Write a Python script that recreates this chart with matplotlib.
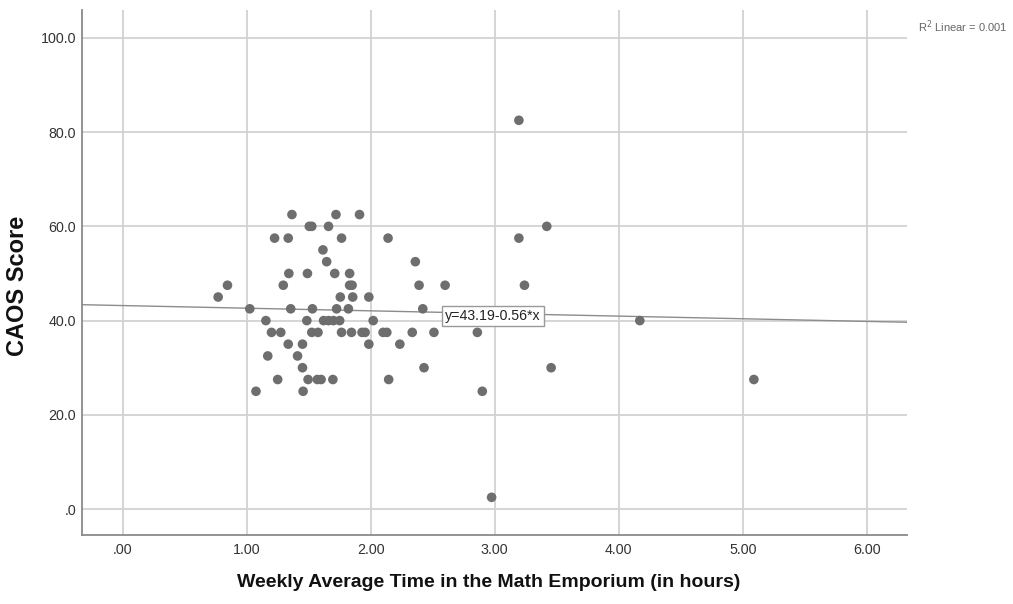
import matplotlib
matplotlib.use("Agg")
import matplotlib.pyplot as plt
import numpy as np

plt.rcParams['font.family'] = ['Liberation Sans', 'DejaVu Sans']

# Data (hours, CAOS score)
hours_62_5 = [1.365, 1.72, 1.91]
hours_60 = [1.505, 1.525, 1.66, 3.42]
hours_57_5 = [1.225, 1.335, 1.765, 2.14, 3.195]
hours_55 = [1.615]
hours_52_5 = [1.645, 2.36]
hours_50 = [1.34, 1.49, 1.71, 1.83]
hours_47_5 = [0.845, 1.295, 1.83, 1.85, 2.39, 2.60, 3.24]
hours_45 = [0.77, 1.755, 1.855, 1.985]
hours_42_5 = [1.025, 1.355, 1.53, 1.725, 1.82, 2.42]
hours_40 = [1.155, 1.485, 1.62, 1.66, 1.70, 1.75, 2.02, 4.17]
hours_37_5 = [1.20, 1.275, 1.525, 1.575, 1.765, 1.845, 1.93, 1.955, 2.10, 2.13, 2.335, 2.51, 2.86]
hours_35 = [1.335, 1.45, 1.985, 2.235]
hours_32_5 = [1.17, 1.41]
hours_30 = [1.45, 2.43, 3.455]
hours_27_5 = [1.25, 1.495, 1.57, 1.60, 1.695, 2.145, 5.09]
hours_25 = [1.075, 1.455, 2.90]
hours_82_5 = [3.195]
hours_2_5 = [2.975]

score_groups = {
    62.5: hours_62_5, 60.0: hours_60, 57.5: hours_57_5, 55.0: hours_55,
    52.5: hours_52_5, 50.0: hours_50, 47.5: hours_47_5, 45.0: hours_45,
    42.5: hours_42_5, 40.0: hours_40, 37.5: hours_37_5, 35.0: hours_35,
    32.5: hours_32_5, 30.0: hours_30, 27.5: hours_27_5, 25.0: hours_25,
    82.5: hours_82_5, 2.5: hours_2_5,
}

fit_intercept = 43.19
fit_slope = -0.56
fit_label = "y=43.19-0.56*x"
r2_label = "R$^2$ Linear = 0.001"

x_ticks = [0, 1, 2, 3, 4, 5, 6]
x_tick_labels = [".00", "1.00", "2.00", "3.00", "4.00", "5.00", "6.00"]
y_ticks = [0, 20, 40, 60, 80, 100]
y_tick_labels = [".0", "20.0", "40.0", "60.0", "80.0", "100.0"]

xs, ys = [], []
for sc, hs in score_groups.items():
    for h in hs:
        xs.append(h)
        ys.append(sc)

fig = plt.figure(figsize=(10.13, 6.04), dpi=100)
ax = fig.add_axes([0.0807, 0.1142, 0.8147, 0.8692])

xlim = (-0.33, 6.325)
ylim = (-5.5, 105.9)
ax.set_xlim(*xlim)
ax.set_ylim(*ylim)

ax.set_xticks(x_ticks)
ax.set_xticklabels(x_tick_labels)
ax.set_yticks(y_ticks)
ax.set_yticklabels(y_tick_labels)
ax.tick_params(length=0, labelsize=10.3, labelcolor='#333333')
ax.tick_params(axis='x', pad=5.5)
ax.tick_params(axis='y', pad=4)

ax.grid(True, color='#d2d2d2', linewidth=1.3)
ax.set_axisbelow(True)
for s in ['top', 'right']:
    ax.spines[s].set_visible(False)
for s in ['left', 'bottom']:
    ax.spines[s].set_color('#8a8a8a')
    ax.spines[s].set_linewidth(1.3)

ax.scatter(xs, ys, s=48, color='#6e6e6e', edgecolors='none', zorder=3)

lx = np.array(xlim)
ax.plot(lx, fit_intercept + fit_slope * lx, color='#8c8c8c', linewidth=1.0, zorder=2)

ax.text(2.986, 41.0, fit_label, fontsize=10.2, color='#222222', ha='center', va='center',
        zorder=4, bbox=dict(boxstyle='square,pad=0.2', facecolor='white', edgecolor='#999999', linewidth=1))

fig.text(0.906, 0.955, r2_label, fontsize=8, color='#666666', ha='left', va='center')

fig.text(0.4825, 0.035, "Weekly Average Time in the Math Emporium (in hours)", fontsize=14,
         fontweight='bold', color='#111111', ha='center', va='center')
fig.text(0.0175, 0.5265, "CAOS Score", fontsize=17, fontweight='bold', color='#111111',
         ha='center', va='center', rotation=90)

fig.savefig("out.png", dpi=100)
